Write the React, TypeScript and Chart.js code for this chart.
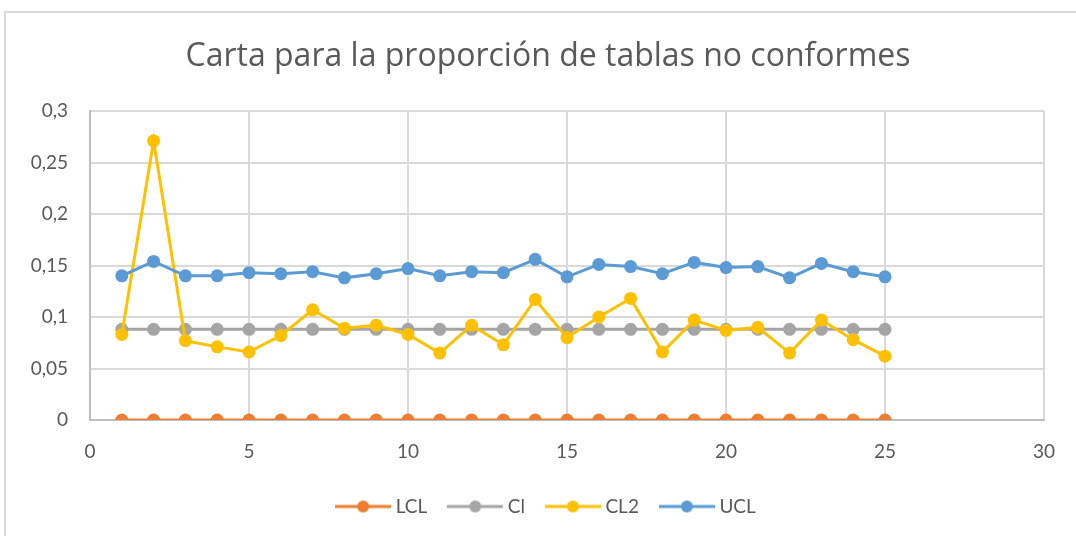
import React, { useEffect, useRef } from "react";
import { Chart, registerables } from "chart.js";

Chart.register(...registerables);

const TITLE = "Carta para la proporción de tablas no conformes";
const samples = [1, 2, 3, 4, 5, 6, 7, 8, 9, 10, 11, 12, 13, 14, 15, 16, 17, 18, 19, 20, 21, 22, 23, 24, 25];
const lclValues = [0, 0, 0, 0, 0, 0, 0, 0, 0, 0, 0, 0, 0, 0, 0, 0, 0, 0, 0, 0, 0, 0, 0, 0, 0];
const clValues = [0.088, 0.088, 0.088, 0.088, 0.088, 0.088, 0.088, 0.088, 0.088, 0.088, 0.088, 0.088, 0.088, 0.088, 0.088, 0.088, 0.088, 0.088, 0.088, 0.088, 0.088, 0.088, 0.088, 0.088, 0.088];
const cl2Values = [0.083, 0.271, 0.077, 0.071, 0.066, 0.082, 0.107, 0.089, 0.092, 0.083, 0.065, 0.092, 0.073, 0.117, 0.08, 0.1, 0.118, 0.066, 0.097, 0.087, 0.09, 0.065, 0.097, 0.078, 0.062];
const uclValues = [0.14, 0.154, 0.14, 0.14, 0.143, 0.142, 0.144, 0.138, 0.142, 0.147, 0.14, 0.144, 0.143, 0.156, 0.139, 0.151, 0.149, 0.142, 0.153, 0.148, 0.149, 0.138, 0.152, 0.144, 0.139];
const seriesNames = ["LCL", "Cl", "CL2", "UCL"];
const seriesColors = ["#ED7D31", "#A5A5A5", "#FFC000", "#5B9BD5"];

const FONT = "Lato, 'Open Sans', sans-serif";
const TITLE_FONT = "'Open Sans', Lato, sans-serif";
const TEXT = "#595959";

function makeLegendImage(color: string) {
  const c = document.createElement("canvas");
  c.width = 56;
  c.height = 14;
  const ctx = c.getContext("2d")!;
  ctx.strokeStyle = color;
  ctx.lineWidth = 3;
  ctx.beginPath();
  ctx.moveTo(0, 7);
  ctx.lineTo(56, 7);
  ctx.stroke();
  ctx.fillStyle = color;
  ctx.beginPath();
  ctx.arc(28, 7, 6, 0, Math.PI * 2);
  ctx.fill();
  return c;
}

export default function App() {
  const ref = useRef<HTMLCanvasElement>(null);

  useEffect(() => {
    document.body.style.margin = "0";
    const allValues = [lclValues, clValues, cl2Values, uclValues];
    const images = seriesColors.map(makeLegendImage);
    const datasets = seriesNames.map((name, i) => ({
      label: name,
      data: samples.map((x, k) => ({ x, y: allValues[i][k] })),
      borderColor: seriesColors[i],
      backgroundColor: seriesColors[i],
      pointBackgroundColor: seriesColors[i],
      pointBorderColor: seriesColors[i],
      pointRadius: 6.5,
      pointBorderWidth: 0,
      borderWidth: 3,
      showLine: true,
      order: 4 - i,
    }));
    const chart = new Chart(ref.current!, {
      type: "scatter",
      data: { datasets },
      options: {
        animation: false,
        responsive: false,
        devicePixelRatio: 1,
        layout: { padding: { left: 20, right: 0, top: 0, bottom: 10 } },
        plugins: {
          title: {
            display: true,
            text: TITLE,
            color: TEXT,
            font: { family: TITLE_FONT, size: 32, weight: "normal" },
            padding: { top: 38, bottom: 34.6 },
          },
          tooltip: { enabled: false },
          legend: {
            position: "bottom",
            labels: {
              usePointStyle: true,
              pointStyleWidth: 46,
              padding: 25,
              color: TEXT,
              font: { family: FONT, size: 19 },
              generateLabels: () =>
                seriesNames.map((name, i) => ({
                  text: name,
                  pointStyle: images[i] as any,
                  datasetIndex: i,
                  fillStyle: seriesColors[i],
                  strokeStyle: seriesColors[i],
                  lineWidth: 0,
                  hidden: false,
                  fontColor: TEXT,
                })),
            },
          },
        },
        scales: {
          x: {
            type: "linear",
            min: 0,
            max: 30,
            ticks: {
              stepSize: 5,
              padding: 20,
              color: TEXT,
              font: { family: FONT, size: 19 },
            },
            grid: { color: "#D9D9D9", lineWidth: 2, drawTicks: false },
            border: { color: "#BFBFBF", width: 2 },
            afterFit: (axis: any) => {
              axis.height = 52;
            },
          },
          y: {
            min: 0,
            max: 0.3,
            ticks: {
              stepSize: 0.05,
              padding: 22,
              color: TEXT,
              font: { family: FONT, size: 19 },
              callback: (v: any) => String(Math.round(Number(v) * 100) / 100).replace(".", ","),
            },
            grid: { color: "#D9D9D9", lineWidth: 2, drawTicks: false },
            border: { color: "#BFBFBF", width: 2 },
            afterFit: (axis: any) => {
              axis.width = 70;
            },
          },
          yRightSpace: {
            type: "linear",
            position: "right",
            display: true,
            min: 0,
            max: 1,
            ticks: { display: false },
            grid: { display: false, drawTicks: false },
            border: { display: false },
            afterFit: (axis: any) => {
              axis.width = 32;
            },
          },
        },
      },
    } as any);
    return () => chart.destroy();
  }, []);

  return (
    <div style={{ position: "relative", width: 1076, height: 536, overflow: "hidden", background: "#fff" }}>
      <div
        style={{
          position: "absolute",
          left: 4,
          top: 11,
          width: 1200,
          height: 700,
          border: "2px solid #D9D9D9",
          boxSizing: "border-box",
        }}
      />
      <canvas ref={ref} width={1076} height={536} style={{ position: "absolute", left: 0, top: 0 }} />
    </div>
  );
}
